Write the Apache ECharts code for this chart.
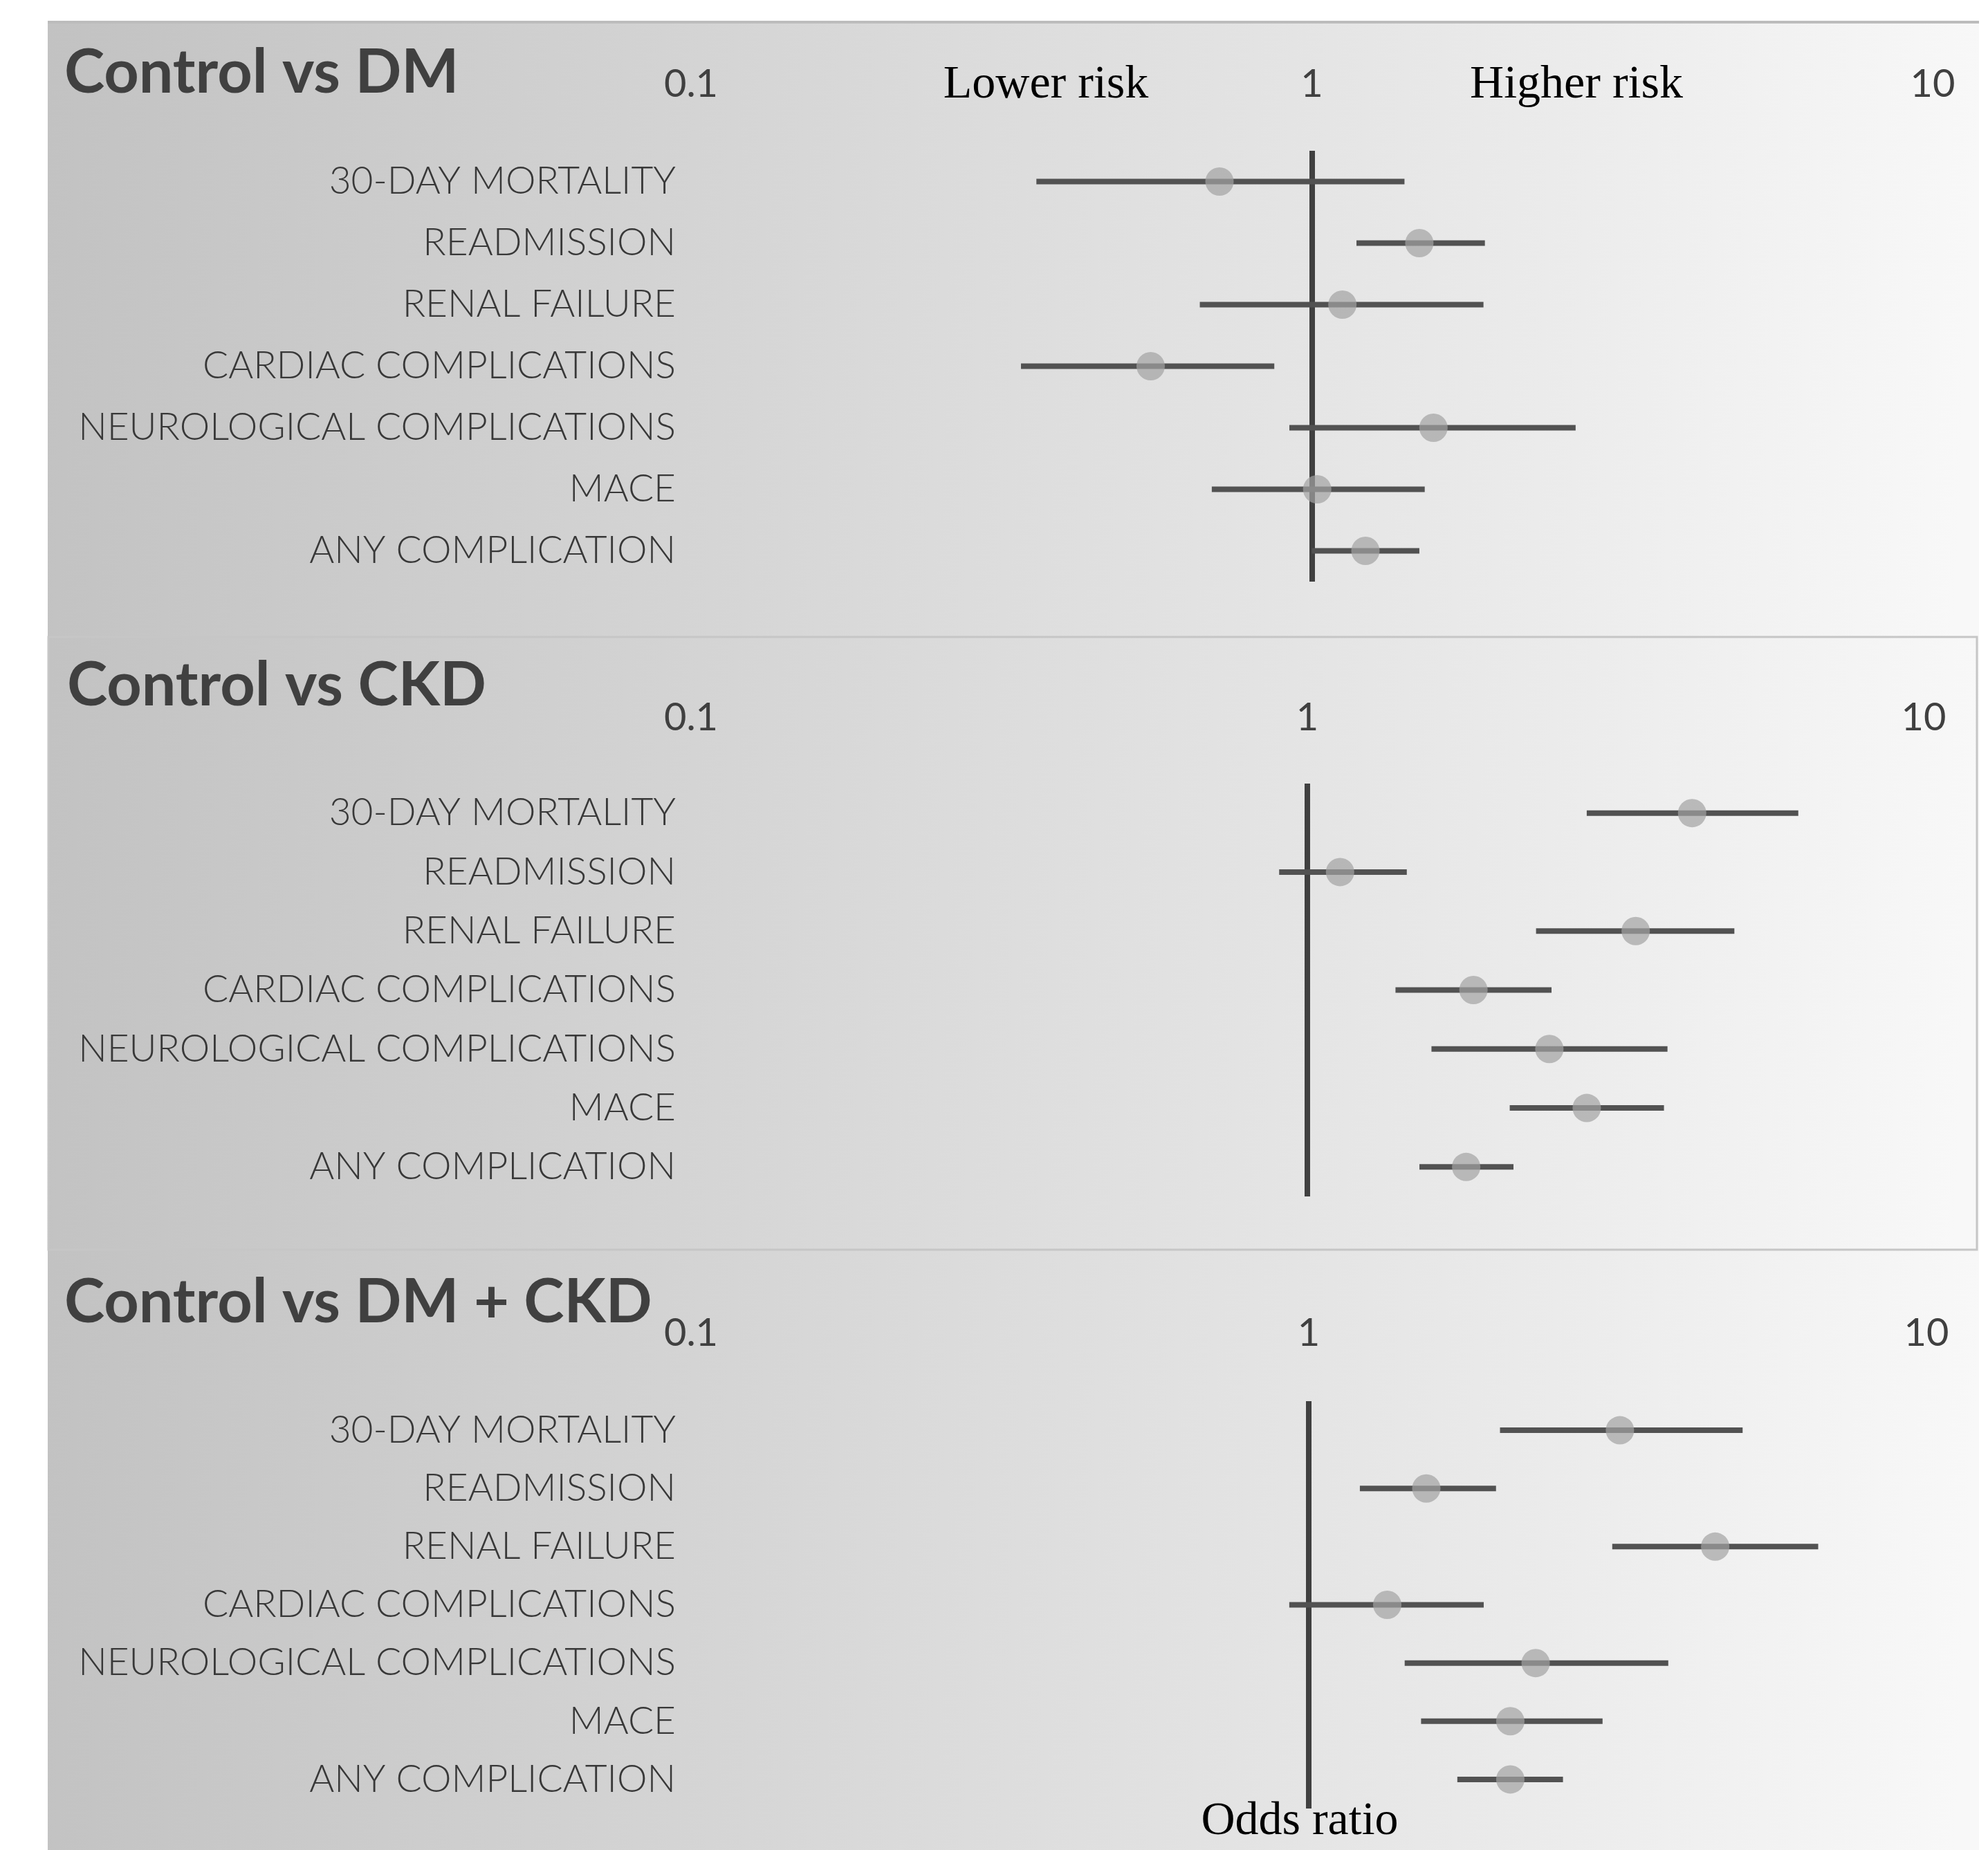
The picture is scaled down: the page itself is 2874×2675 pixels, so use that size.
<!DOCTYPE html>
<html><head><meta charset="utf-8">
<script src="https://cdn.jsdelivr.net/npm/echarts@6/dist/echarts.min.js"></script>
<style>html,body{margin:0;padding:0;background:#fff}#c{width:2874px;height:2675px}</style>
</head><body><div id="c"></div>
<script>
// ---------- DATA ----------
const categories = ['30-DAY MORTALITY','READMISSION','RENAL FAILURE','CARDIAC COMPLICATIONS','NEUROLOGICAL COMPLICATIONS','MACE','ANY COMPLICATION'];
const panelTitles = ['Control vs DM','Control vs CKD','Control vs DM + CKD'];
const xTickValues = [0.1, 1, 10];
const refValue = 1;

const dmOR = [0.71, 1.49, 1.12, 0.55, 1.57, 1.02, 1.22];
const dmLo = [0.36, 1.18, 0.66, 0.34, 0.92, 0.69, 1.00];
const dmHi = [1.41, 1.90, 1.89, 0.87, 2.66, 1.52, 1.49];

const ckdOR = [4.21, 1.13, 3.41, 1.86, 2.47, 2.84, 1.81];
const ckdLo = [2.84, 0.90, 2.35, 1.39, 1.59, 2.13, 1.52];
const ckdHi = [6.26, 1.45, 4.93, 2.49, 3.84, 3.79, 2.16];

const dmckdOR = [3.19, 1.55, 4.55, 1.34, 2.33, 2.12, 2.12];
const dmckdLo = [2.04, 1.21, 3.10, 0.93, 1.43, 1.52, 1.74];
const dmckdHi = [5.04, 2.01, 6.68, 1.92, 3.82, 2.99, 2.58];

const riskLabels = ['Lower risk', 'Higher risk'];
const xAxisName = 'Odds ratio';

// ---------- LAYOUT ----------
const panels = [
  {title: panelTitles[0], or: dmOR, lo: dmLo, hi: dmHi},
  {title: panelTitles[1], or: ckdOR, lo: ckdLo, hi: ckdHi},
  {title: panelTitles[2], or: dmckdOR, lo: dmckdLo, hi: dmckdHi}
];
const layout = [
  {bgTop:30,  bgBottom:920,  gridTop:218,  gridHeight:623, right:80, labelMargin:96, titleY:106,  titleX:93},
  {bgTop:920, bgBottom:1808, gridTop:1133, gridHeight:597, right:93, labelMargin:95, titleY:992,  titleX:97},
  {bgTop:1808,bgBottom:2675, gridTop:2026, gridHeight:589, right:89, labelMargin:98, titleY:1884, titleX:93}
];
const PANEL_LEFT = 69, PANEL_RIGHT = 2861, GRID_LEFT = 999;
const TEXT = '#404040';

const chart = echarts.init(document.getElementById('c'), null, {renderer:'canvas'});

const grids = [], xAxes = [], yAxes = [], series = [], graphics = [];

const bgFill = {type:'linear', x:0, y:0, x2:1, y2:0.15, colorStops:[
  {offset:0, color:'#c2c2c2'}, {offset:0.45, color:'#dadada'}, {offset:0.8, color:'#ececec'}, {offset:1, color:'#f8f8f8'}]};

layout.forEach((L, i) => {
  graphics.push({type:'rect', z:-10, silent:true,
    shape:{x:PANEL_LEFT, y:L.bgTop, width:PANEL_RIGHT-PANEL_LEFT, height:L.bgBottom-L.bgTop},
    style:{fill:bgFill}});
});
graphics.push({type:'rect', z:-9, silent:true, shape:{x:PANEL_LEFT, y:30, width:PANEL_RIGHT-PANEL_LEFT, height:4}, style:{fill:'#bcbcbc'}});
graphics.push({type:'rect', z:-9, silent:true,
  shape:{x:PANEL_LEFT+1, y:layout[1].bgTop+1, width:PANEL_RIGHT-PANEL_LEFT-4, height:layout[1].bgBottom-layout[1].bgTop-2},
  style:{fill:'none', stroke:'#c6c6c6', lineWidth:3}});

panels.forEach((P, i) => {
  const L = layout[i];
  grids.push({left:GRID_LEFT, right:L.right, top:L.gridTop, height:L.gridHeight, containLabel:false});
  xAxes.push({type:'log', logBase:10, gridIndex:i, position:'top',
    min:xTickValues[0], max:xTickValues[xTickValues.length-1], interval:1,
    axisLine:{show:false}, axisTick:{show:false}, splitLine:{show:false},
    axisLabel:{show:true, margin:L.labelMargin, verticalAlign:'middle', showMinLabel:true, showMaxLabel:true,
      fontFamily:'Lato', fontSize:56, color:TEXT,
      formatter: v => { const t = xTickValues.find(x => Math.abs(x - v) < 1e-9); return t === undefined ? '' : String(t); }}
  });
  yAxes.push({type:'category', data:categories, inverse:true, gridIndex:i,
    axisLine:{show:false}, axisTick:{show:false}, splitLine:{show:false},
    axisLabel:{margin:22, fontFamily:'Lato', fontWeight:300, fontSize:55, color:'#383838'}
  });
  // confidence interval lines
  series.push({type:'custom', xAxisIndex:i, yAxisIndex:i, z:3,
    data: categories.map((c, k) => [k, P.lo[k], P.hi[k]]),
    encode:{y:0, x:[1,2]},
    renderItem: function(params, api){
      const k = api.value(0);
      const p1 = api.coord([api.value(1), k]);
      const p2 = api.coord([api.value(2), k]);
      return {type:'line', shape:{x1:p1[0], y1:p1[1], x2:p2[0], y2:p2[1]},
        style:{stroke:'#525252', lineWidth:8}};
    }
  });
  // odds ratio points + reference line at OR = 1
  series.push({type:'scatter', xAxisIndex:i, yAxisIndex:i, z:4,
    symbol:'circle', symbolSize:41,
    itemStyle:{color:'rgba(162,162,162,0.88)'},
    data: categories.map((c, k) => [P.or[k], c]),
    markLine:{silent:true, symbol:['none','none'], label:{show:false}, z:2,
      lineStyle:{color:'#404040', width:8, type:'solid', opacity:1},
      emphasis:{disabled:true},
      data:[{xAxis:refValue}]}
  });
  graphics.push({type:'text', z:10, silent:true,
    style:{x:L.titleX, y:L.titleY, text:P.title, textAlign:'left', textVerticalAlign:'middle',
      font:'bold 88px Lato', fill:TEXT}});
});

graphics.push({type:'text', z:10, silent:true, style:{x:1512, y:123, text:riskLabels[0], textAlign:'center', textVerticalAlign:'middle', font:'68px "Liberation Serif"', fill:'#000'}});
graphics.push({type:'text', z:10, silent:true, style:{x:2279, y:123, text:riskLabels[1], textAlign:'center', textVerticalAlign:'middle', font:'68px "Liberation Serif"', fill:'#000'}});
graphics.push({type:'text', z:10, silent:true, style:{x:1879, y:2634, text:xAxisName, textAlign:'center', textVerticalAlign:'middle', font:'68px "Liberation Serif"', fill:'#000'}});

chart.setOption({
  animation:false,
  backgroundColor:'#ffffff',
  grid:grids, xAxis:xAxes, yAxis:yAxes, series:series,
  graphic:{elements:graphics}
});
</script></body></html>
